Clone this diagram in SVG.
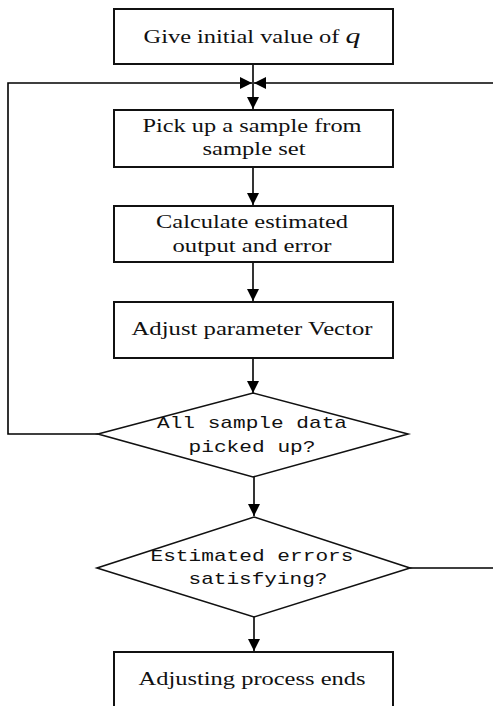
<svg xmlns="http://www.w3.org/2000/svg" width="493" height="706" viewBox="0 0 493 706">
<style>
.box{fill:#fff;stroke:#111;stroke-width:2}
.dia{fill:#fff;stroke:#111;stroke-width:1.6}
.t{font-family:"Liberation Serif","Times New Roman",serif;font-size:18px;fill:#111;text-anchor:middle}
.m{font-family:"Liberation Mono","Courier New",monospace;font-size:17px;fill:#111;text-anchor:middle}
.c{fill:none;stroke:#000;stroke-width:1.6}
</style>
<defs>
<marker id="ah" markerUnits="userSpaceOnUse" markerWidth="14" markerHeight="12" refX="12" refY="6" orient="auto">
<path d="M0,0 L12,6 L0,12 Z" fill="#000"/>
</marker>
</defs>
<rect width="493" height="706" fill="#fff"/>
<g id="connectors">
<line class="c" x1="253" y1="64" x2="253" y2="109" marker-end="url(#ah)"/>
<path class="c" d="M98 434 H8 V83 H252" marker-end="url(#ah)"/>
<path class="c" d="M410 568 H500 V83 H254" marker-end="url(#ah)"/>
<line class="c" x1="253" y1="167" x2="253" y2="205" marker-end="url(#ah)"/>
<line class="c" x1="253" y1="262" x2="253" y2="301" marker-end="url(#ah)"/>
<line class="c" x1="253" y1="358" x2="253" y2="393" marker-end="url(#ah)"/>
<line class="c" x1="254" y1="477" x2="254" y2="516" marker-end="url(#ah)"/>
<line class="c" x1="254" y1="617" x2="254" y2="651" marker-end="url(#ah)"/>
</g>
<g id="start">
<rect class="box" x="114" y="9" width="279" height="55"/>
<text class="t" x="252" y="43" textLength="217" lengthAdjust="spacingAndGlyphs">Give initial value of <tspan font-style="italic" font-size="22">q</tspan></text>
</g>
<g id="pick">
<rect class="box" x="114" y="110" width="279" height="57"/>
<text class="t" x="252" y="132" textLength="219" lengthAdjust="spacingAndGlyphs">Pick up a sample from</text>
<text class="t" x="254" y="155" textLength="103" lengthAdjust="spacingAndGlyphs">sample set</text>
</g>
<g id="calc">
<rect class="box" x="114" y="206" width="279" height="56"/>
<text class="t" x="252" y="228" textLength="192" lengthAdjust="spacingAndGlyphs">Calculate estimated</text>
<text class="t" x="252" y="252" textLength="159" lengthAdjust="spacingAndGlyphs">output and error</text>
</g>
<g id="adjust">
<rect class="box" x="114" y="302" width="279" height="56"/>
<text class="t" x="252" y="335" textLength="241" lengthAdjust="spacingAndGlyphs">Adjust parameter Vector</text>
</g>
<g id="allpicked">
<polygon class="dia" points="253,393 408,434 253,477 98,434"/>
<text class="m" x="252" y="428" textLength="190" lengthAdjust="spacingAndGlyphs">All sample data</text>
<text class="m" x="252" y="452" textLength="127" lengthAdjust="spacingAndGlyphs">picked up?</text>
</g>
<g id="satisfy">
<polygon class="dia" points="254,517 410,568 254,617 97,568"/>
<text class="m" x="252" y="561" textLength="203" lengthAdjust="spacingAndGlyphs">Estimated errors</text>
<text class="m" x="258" y="584" textLength="139" lengthAdjust="spacingAndGlyphs">satisfying?</text>
</g>
<g id="end">
<rect class="box" x="114" y="652" width="279" height="70"/>
<text class="t" x="252" y="685" textLength="227" lengthAdjust="spacingAndGlyphs">Adjusting process ends</text>
</g>
</svg>
